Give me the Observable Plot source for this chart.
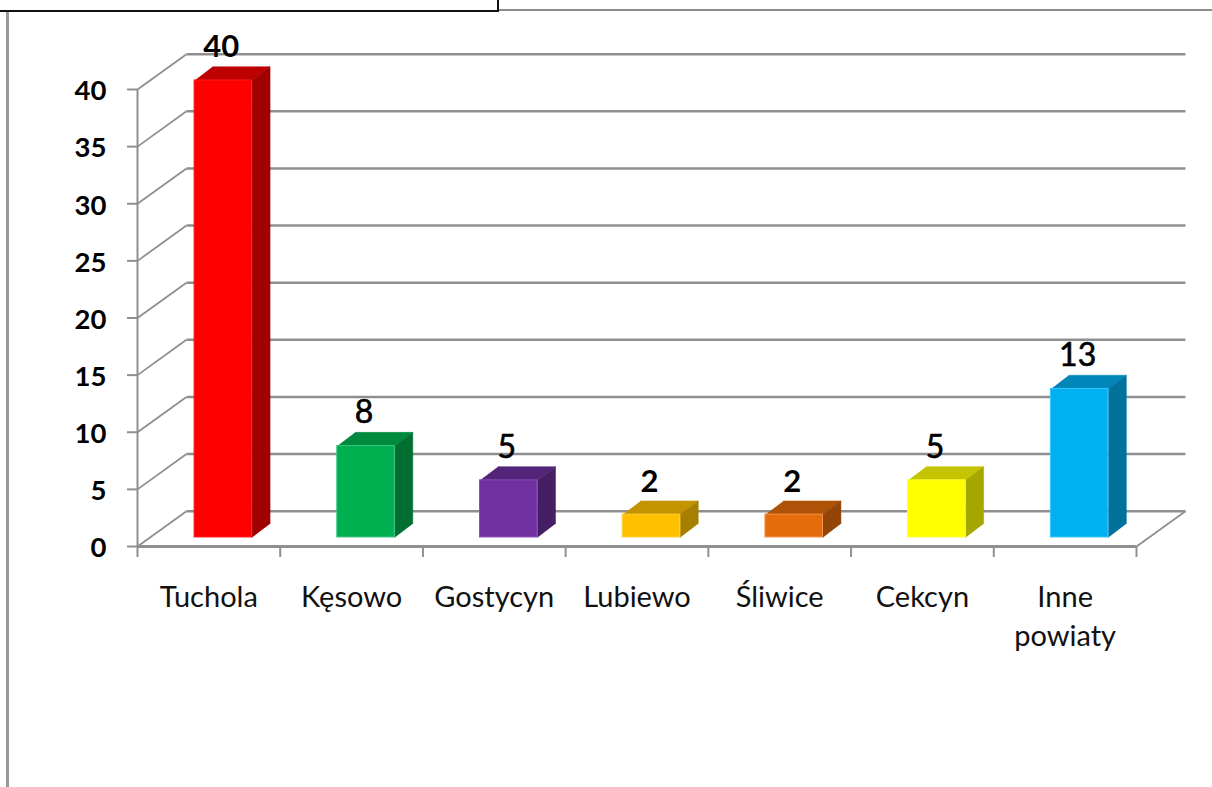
<!DOCTYPE html>
<html>
<head>
<meta charset="utf-8">
<script src="https://cdn.jsdelivr.net/npm/d3@7"></script>
<script src="https://cdn.jsdelivr.net/npm/@observablehq/plot@0.6"></script>
<style>
html,body{margin:0;padding:0;background:#fff;overflow:hidden}
#c{position:relative;width:1212px;height:787px}
#c svg{position:absolute;left:0;top:0;background:transparent}
.f{position:absolute}
</style>
</head>
<body>
<div id="c">
<div class="f" style="left:498px;top:9px;width:714px;height:2px;background:#8c8c8c"></div>
<div class="f" style="left:0;top:10px;width:499px;height:2px;background:#111"></div>
<div class="f" style="left:497px;top:0;width:2px;height:12px;background:#111"></div>
<div class="f" style="left:6px;top:12px;width:3px;height:775px;background:#9a9a9a"></div>
</div>
<script>
const categories = ["Tuchola", "Kęsowo", "Gostycyn", "Lubiewo", "Śliwice", "Cekcyn", "Inne\npowiaty"];
const values = [40, 8, 5, 2, 2, 5, 13];
const labelWeights = ["bold", "normal", "normal", "bold", "bold", "normal", "normal"];
const frontColors = ["#ff0000", "#00b050", "#7030a0", "#ffc000", "#e46c0a", "#ffff00", "#00b0f0"];
const edgeColors = ["#ff1a1a", "#3cc47c", "#8a50b8", "#ffcc33", "#f5924a", "#ffff33", "#33c7ff"];
const topColors = ["#bd0000", "#008a3e", "#54247a", "#c49300", "#ae5208", "#c4c400", "#0086b8"];
const sideColors = ["#a00000", "#006f32", "#451e64", "#a67e00", "#924507", "#a6a600", "#00729c"];
const yTicks = [0, 5, 10, 15, 20, 25, 30, 35, 40];
const xTicks = [0, 1, 2, 3, 4, 5, 6, 7];

// Projection of the pseudo-3D box, in data units
const wallX = 0.343, wallY = 3.09;
const barLeft = 0.4, barRight = 0.803, barBase = 0.79;
const depthX = 0.126, depthY = 1.2;
const gridColor = "#8f8f8f";

const bars = categories.map((name, i) => ({
  name, i, value: values[i],
  x1: i + barLeft, x2: i + barRight,
  y1: barBase, y2: values[i] + barBase,
  front: frontColors[i], edge: edgeColors[i], top: topColors[i], side: sideColors[i], weight: labelWeights[i]
}));

const poly = (pts, color) => Plot.line(pts, {x: "x", y: "y", fill: color, stroke: color, strokeWidth: 0.5});

const marks = [
  // back wall grid lines
  Plot.link(yTicks, {x1: wallX, x2: 7 + wallX, y1: d => d + wallY, y2: d => d + wallY, stroke: gridColor, strokeWidth: 2.4}),
  // left wall grid lines
  Plot.link(yTicks, {x1: 0, x2: wallX, y1: d => d, y2: d => d + wallY, stroke: gridColor, strokeWidth: 1.8}),
  // floor right edge
  Plot.link([0], {x1: 7, x2: 7 + wallX, y1: 0, y2: wallY, stroke: gridColor, strokeWidth: 1.8}),
  // axes
  Plot.axisY({ticks: yTicks, anchor: "left", tickSize: 10, tickFormat: () => "", label: null, stroke: gridColor, strokeWidth: 2, strokeOpacity: 1}),
  Plot.text(yTicks, {x: 0, y: d => d, text: d => String(d), textAnchor: "end", dx: -31, dy: 2, fontSize: 27.5, fontWeight: "bold", fill: "#000"}),
  Plot.axisX({ticks: xTicks, anchor: "bottom", tickSize: 11, tickFormat: () => "", label: null, stroke: gridColor, strokeWidth: 2, strokeOpacity: 1}),
  Plot.ruleX([0], {y1: 0, y2: 40, stroke: gridColor, strokeWidth: 2}),
  Plot.ruleY([0], {x1: 0, x2: 7, stroke: gridColor, strokeWidth: 3}),
  // bars
  ...bars.flatMap(b => [
    poly([
      {x: b.x1, y: b.y2}, {x: b.x2, y: b.y2},
      {x: b.x2 + depthX, y: b.y2 + depthY}, {x: b.x1 + depthX, y: b.y2 + depthY}
    ], b.top),
    poly([
      {x: b.x2, y: b.y1}, {x: b.x2, y: b.y2},
      {x: b.x2 + depthX, y: b.y2 + depthY}, {x: b.x2 + depthX, y: b.y1 + depthY}
    ], b.side),
    Plot.rect([b], {x1: "x1", x2: "x2", y1: "y1", y2: "y2", fill: "front", stroke: "edge", strokeWidth: 1})
  ]),
  // value labels
  Plot.text(bars, {
    x: d => d.i + (barLeft + barRight) / 2, y: "y2", text: d => String(d.value),
    dx: -2, dy: -33, fontSize: 31, fontWeight: "bold", fill: "#000",
    filter: d => d.weight === "bold"
  }),
  Plot.text(bars, {
    x: d => d.i + (barLeft + barRight) / 2, y: "y2", text: d => String(d.value),
    dx: -2, dy: -33, fontSize: 32, fontWeight: "normal", fill: "#000", stroke: "#000", strokeWidth: 0.6,
    filter: d => d.weight === "normal"
  }),
  // category labels
  Plot.text(bars, {
    x: d => d.i + 0.5, y: 0, text: "name", lineAnchor: "top", dy: 33,
    fontSize: 29, fill: "#111", lineHeight: 1.35
  })
];

const chart = Plot.plot({
  width: 1212, height: 787,
  marginLeft: 137, marginRight: 76, marginTop: 89, marginBottom: 241,
  style: {fontFamily: "Lato, 'Open Sans', sans-serif", background: "transparent", overflow: "visible"},
  x: {type: "linear", domain: [0, 7]},
  y: {type: "linear", domain: [0, 40]},
  marks
});
document.getElementById("c").appendChild(chart);
</script>
</body>
</html>
